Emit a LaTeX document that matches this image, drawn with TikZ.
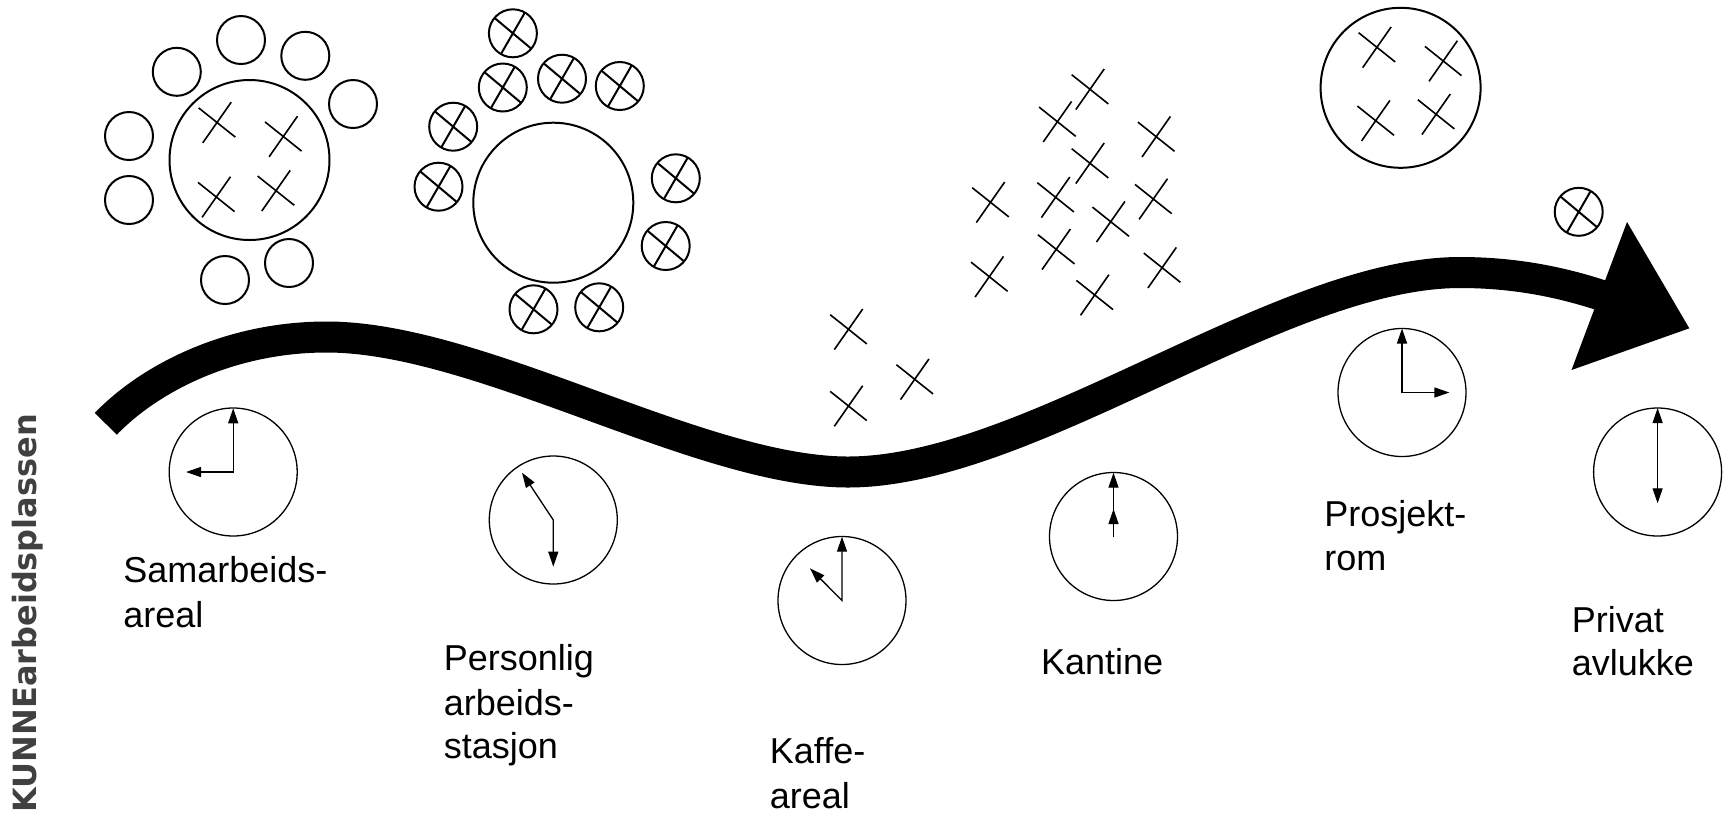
\documentclass[tikz,border=0pt]{standalone}
\usepackage{fontspec}
\setmainfont{Liberation Sans}
\newfontfamily\sidefont{DejaVu Sans}
\usetikzlibrary{arrows.meta}
\tikzset{
  tbl/.style={line width=1pt},
  xline/.style={line width=0.8pt},
  clockface/.style={line width=0.65pt},
  hand/.style={line width=0.65pt,{Triangle[length=7.5pt,width=5pt]}-{Triangle[length=7.5pt,width=5pt]}},
  handone/.style={line width=0.65pt,-{Triangle[length=7.5pt,width=5pt]}},
  lbl/.style={anchor=base west,inner sep=0pt,font=\fontsize{18pt}{22pt}\selectfont},
  xm/.pic={\draw[xline] (-18.3,-14.6) -- (18.3,14.6) (14.2,-20.3) -- (-14.2,20.3);},
  oxm/.pic={\draw[tbl] (0,0) circle[radius=24];
            \draw[tbl] (-18.4,-15.4) -- (18.4,15.4) (12,-20.8) -- (-12,20.8);},
}
\begin{document}
\begin{tikzpicture}[x=0.5pt,y=-0.5pt]
\fill[white] (0,0) rectangle (1728,816);
\useasboundingbox (0,0) rectangle (1728,816);

% --- cluster 1: round table with chairs
\draw[tbl] (249.5,160) circle[radius=80];
\foreach \p in {(241,40),(176.8,71.8),(305.3,55.8),(353,104),(129,136),(129,200),(225,280),(289,263)}
  \draw[tbl] \p circle[radius=24];
\foreach \p in {(217,122.5),(283.3,136.5),(216.3,197),(276,190.7)}
  \pic at \p {xm};

% --- cluster 2: empty table with occupied chairs
\draw[tbl] (553.3,202.7) circle[radius=80];
\foreach \p in {(512.9,33.3),(502.8,87.5),(562,78.7),(619.8,86),(453.2,126.7),(438.5,186.7),(675.8,178.3),(665.7,246),(533.5,309.3),(599.2,307.3)}
  \pic at \p {oxm};

% --- free crosses (cafe / canteen)
\foreach \p in {(1090,89.3),(1057.4,121.7),(1156.2,136.7),(1090,163.3),(990.5,202.3),(1055.6,197.3),(1153.3,199),(1110.7,221.7),(1056.2,249.3),(989.3,276.7),(1162.1,267.7),(1094.7,295),(848.5,329.3),(914.7,379.3),(848.5,406)}
  \pic at \p {xm};

% --- project room
\draw[tbl] (1400.6,87.8) circle[radius=80];
\foreach \p in {(1376.9,47.3),(1443.2,61),(1375.7,120.7),(1436.1,114.3)}
  \pic at \p {xm};

% --- private cubicle
\pic at (1578.7,211.8) {oxm};

% --- big arrow
\draw[line width=15.5pt,line cap=butt]
  (105.8,423.8) .. controls (150,378) and (230,337) .. (326.7,337)
  .. controls (480,337) and (700,472) .. (848,472)
  .. controls (1030,472) and (1280,272.5) .. (1460,272.5)
  .. controls (1520,272.5) and (1570,284) .. (1615,300);
\fill (1627,222) -- (1689.3,328.3) -- (1571.5,370) -- cycle;

% --- clocks
\draw[clockface] (233.2,472) circle[radius=64];
\draw[hand] (186,472) -- (233.2,472) -- (233.2,408.3);

\draw[clockface] (553.3,520) circle[radius=64];
\draw[hand] (522,472.7) -- (553.3,520) -- (553.3,566.7);

\draw[clockface] (842,600.5) circle[radius=64];
\draw[hand] (810,568.3) -- (842,600.5) -- (842,536.7);

\draw[clockface] (1113.5,536.5) circle[radius=64];
\draw[handone] (1113.5,536.5) -- (1113.5,472.7);
\draw[handone] (1113.5,536.5) -- (1113.5,509);

\draw[clockface] (1402,392.5) circle[radius=64];
\draw[hand] (1449.4,392.5) -- (1402,392.5) -- (1402,328.5);

\draw[clockface] (1657.6,472) circle[radius=64];
\draw[hand] (1657.6,503.3) -- (1657.6,472) -- (1657.6,408);

% --- labels
\node[lbl] (l1a) at (123,582) {Samarbeids-};
\node[lbl] (l1b) at (123,627) {areal};
\node[lbl] (l2a) at (443.5,670) {Personlig};
\node[lbl] (l2b) at (443.5,715) {arbeids-};
\node[lbl] (l2c) at (443.5,758.3) {stasjon};
\node[lbl] (l3a) at (769.5,763.3) {Kaffe-};
\node[lbl] (l3b) at (769.5,808.3) {areal};
\node[lbl] (l4a) at (1040.6,674) {Kantine};
\node[lbl] (l5a) at (1324,526.7) {Prosjekt-};
\node[lbl] (l5b) at (1324,570.7) {rom};
\node[lbl] (l6a) at (1571.5,632.3) {Privat};
\node[lbl] (l6b) at (1571.5,675.7) {avlukke};

\node[anchor=base west,rotate=90,inner sep=0pt,text=black!75,
      font=\sidefont\bfseries\fontsize{16pt}{16pt}\selectfont] (side) at (36.4,813) {KUNNEarbeidsplassen};
\end{tikzpicture}
\end{document}
